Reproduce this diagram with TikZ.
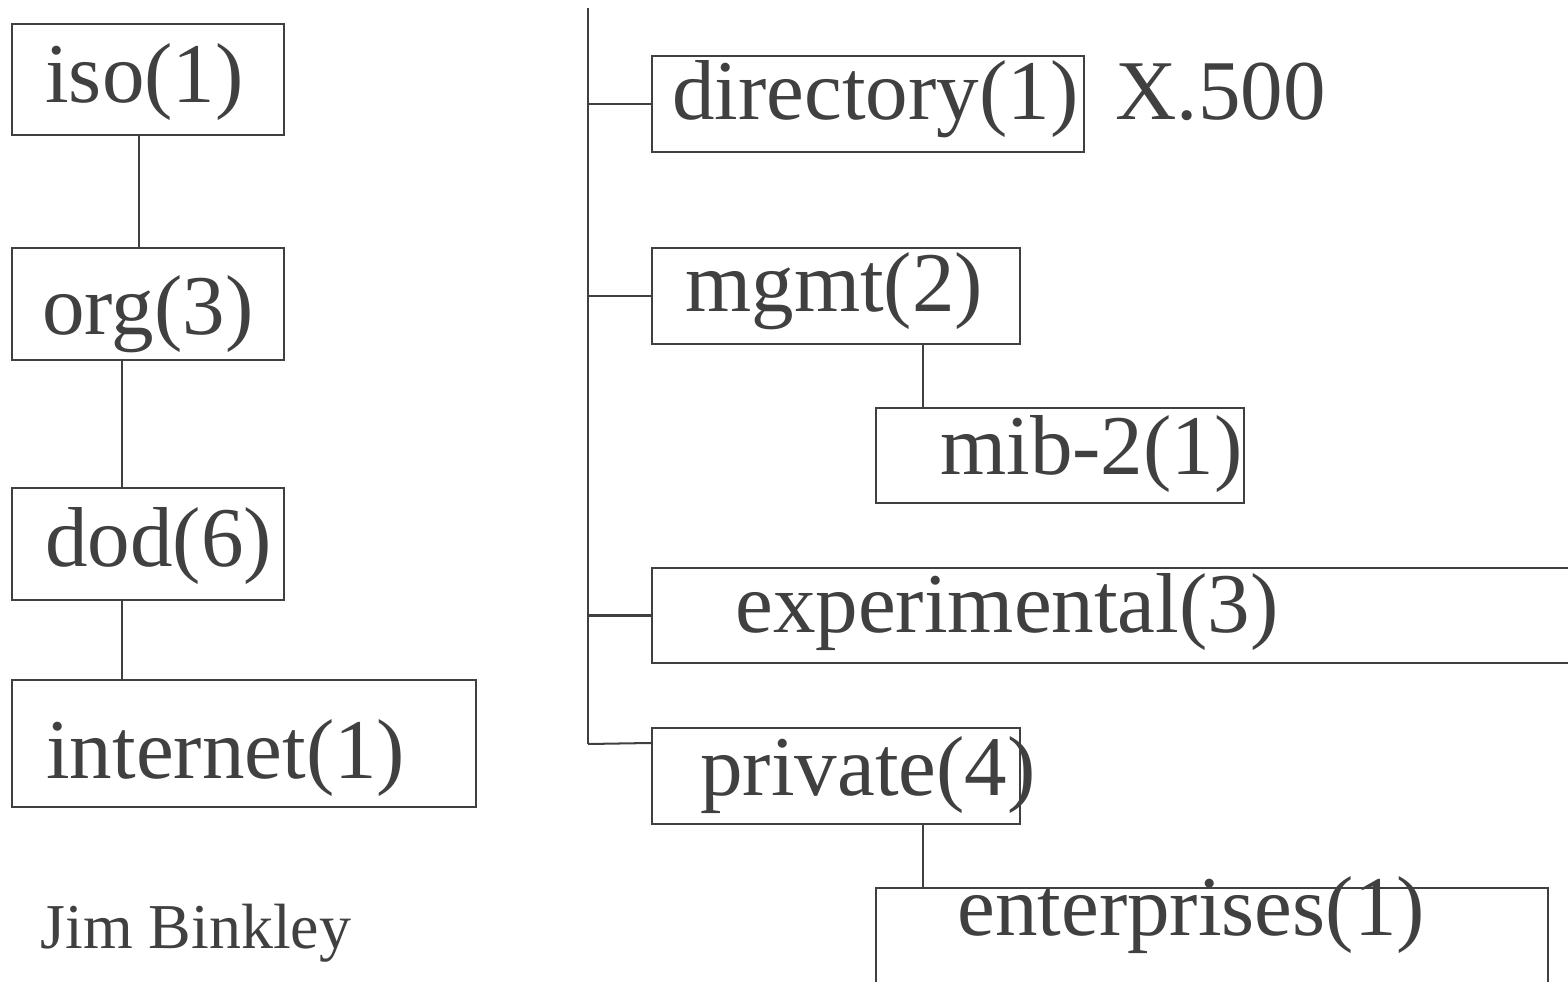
\documentclass[tikz,border=0pt]{standalone}
\usepackage{fontspec}
\setmainfont{Liberation Serif}
\usetikzlibrary{fit,calc}
\definecolor{ink}{HTML}{404040}
\begin{document}
\begin{tikzpicture}[x=0.02cm,y=-0.02cm,
  box/.style={draw=ink, line width=1.15pt, inner sep=0pt, rectangle},
  lab/.style={anchor=base west, inner sep=0pt, text=ink, font=\fontsize{48.4}{50}\selectfont},
  small/.style={anchor=base west, inner sep=0pt, text=ink, font=\fontsize{36.4}{40}\selectfont},
  conn/.style={draw=ink, line width=1.15pt}]
\useasboundingbox (0,0) rectangle (1568,982);
\clip (0,0) rectangle (1568,982);
% boxes
\node[box, fit={(12,24) (284,135)}] (iso) {};
\node[box, fit={(12,248) (284,360)}] (org) {};
\node[box, fit={(12,488) (284,600)}] (dod) {};
\node[box, fit={(12,680) (476,807)}] (inet) {};
\node[box, fit={(652,56) (1084,152)}] (dir) {};
\node[box, fit={(652,248) (1020,344)}] (mgmt) {};
\node[box, fit={(876,408) (1244,503)}] (mib) {};
\node[box, fit={(652,568) (1620,663)}] (exp) {};
\node[box, fit={(652,728) (1020,824)}] (priv) {};
\node[box, fit={(876,888) (1548,1030)}] (ent) {};
% labels
\node[lab] (tiso) at (45,103) {iso(1)};
\node[lab] (torg) at (42,335) {org(3)};
\node[lab] (tdod) at (45,567) {dod(6)};
\node[lab] (tinet) at (46,778) {internet(1)};
\node[lab] (tdir) at (672,120) {directory(1)};
\node[lab] (tx) at (1115,120) {X.500};
\node[lab] (tmgmt) at (685,312) {mgmt(2)};
\node[lab] (tmib) at (940,475) {mib-2(1)};
\node[lab] (texp) at (735,632) {experimental(3)};
\node[lab] (tpriv) at (700,795) {private(4)};
\node[lab] (tent) at (957,935) {enterprises(1)};
\node[small] (auth) at (40,948) {Jim Binkley};
% connectors
\coordinate (bustop) at (588,8);
\coordinate (busbot) at (588,744);
\draw[conn] (bustop) -- (busbot);
\draw[conn] ($(iso.south west)+(128,0)$) -- ($(org.north west)+(128,0)$);
\draw[conn] ($(org.south west)+(111,0)$) -- ($(dod.north west)+(111,0)$);
\draw[conn] ($(dod.south west)+(111,0)$) -- ($(inet.north west)+(111,0)$);
\draw[conn] ($(inet.north east)+(0,48)$) -- ($(inet.north east)+(0,48)$ -| bustop);
\draw[conn] (dir.west -| bustop) -- (dir.west);
\draw[conn] (mgmt.west -| bustop) -- (mgmt.west);
\draw[conn] (exp.west -| bustop) -- (exp.west);
\draw[conn] (busbot) -- ($(priv.north west)+(0,16)$);
\draw[conn] ($(mgmt.south west)+(272,0)$) -- ($(mib.north west)+(48,0)$);
\draw[conn] ($(priv.south west)+(272,0)$) -- ($(ent.north west)+(48,0)$);
\end{tikzpicture}
\end{document}
